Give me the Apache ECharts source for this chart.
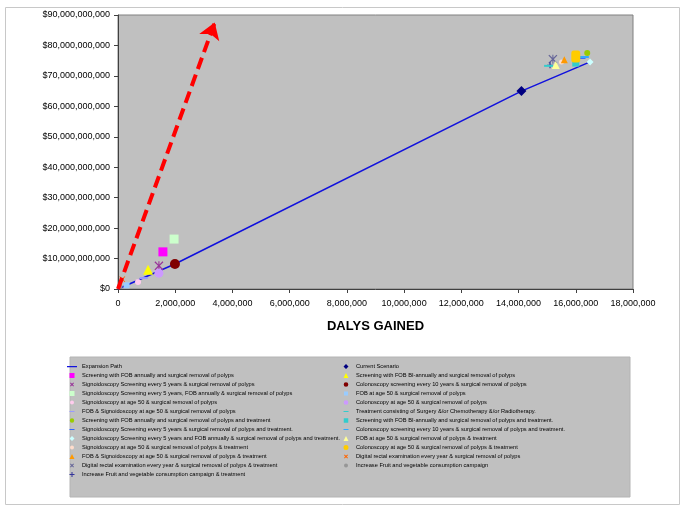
<!DOCTYPE html>
<html>
<head>
<meta charset="utf-8">
<script src="https://cdn.jsdelivr.net/npm/echarts@6/dist/echarts.min.js"></script>
<style>html,body{margin:0;padding:0;background:#fff}#c{width:685px;height:510px}</style>
</head>
<body>
<div id="c"></div>
<script>
// ---- data (DALYs gained, cost in $) ----
var xAxisMax = 18000000, xAxisStep = 2000000;
var yAxisMax = 90000000000, yAxisStep = 10000000000;
var expansionPath = [[0, 0], [1990000, 8200000000], [14100000, 65000000000], [16500000, 74600000000]];
var arrowLine = [[0, 0], [3380000, 87500000000]];

var leftNames = [
  "Expansion Path",
  "Screening with FOB annually and surgical removal of polyps",
  "Signoidoscopy Screening every 5 years & surgical removal of polyps",
  "Signoidoscopy Screening every 5 years, FOB annually & surgical removal of polyps",
  "Signoidoscopy at age 50 & surgical removal of polyps",
  "FOB & Signoidoscopy at age 50 & surgical removal of polyps",
  "Screening with FOB annually and surgical removal of polyps and treatment",
  "Signoidoscopy Screening every 5 years & surgical removal of polyps and treatment.",
  "Signoidoscopy Screening every 5 years and FOB annually & surgical removal of polyps and treatment.",
  "Signoidoscopy at age 50 & surgical removal of polyps & treatment",
  "FOB & Signoidoscopy at age 50 & surgical removal of polyps & treatment",
  "Digital rectal examination every year & surgical removal of polyps & treatment",
  "Increase Fruit and vegetable consumption campaign & treatment"
];
var rightNames = [
  "Current Scenario",
  "Screening with FOB BI-annually and surgical removal of polyps",
  "Colonoscopy screening every 10 years & surgical removal of polyps",
  "FOB at age 50 & surgical removal of polyps",
  "Colonoscopy at age 50 & surgical removal of polyps",
  "Treatment consisting of Surgery &/or Chemotherapy &/or Radiotherapy.",
  "Screening with FOB BI-annually and surgical removal of polyps and treatment.",
  "Colonoscopy screening every 10 years & surgical removal of polyps and treatment.",
  "FOB at age 50 & surgical removal of polyps & treatment",
  "Colonoscopy at age 50 & surgical removal of polyps & treatment",
  "Digital rectal examination every year & surgical removal of polyps",
  "Increase Fruit and vegetable consumption campaign"
];
// one [DALYs, cost] point per scenario, same order as names (after Expansion Path for left)
var leftPoints = [
  [1570000, 12200000000],
  [1430000, 7600000000],
  [1960000, 16400000000],
  [700000, 2300000000],
  [900000, 3600000000],
  [16400000, 77500000000],
  [16200000, 75900000000],
  [16500000, 74600000000],
  [15500000, 74600000000],
  [15600000, 75300000000],
  [15200000, 75500000000],
  [15100000, 73500000000]
];
var rightPoints = [
  [14100000, 65000000000],
  [1050000, 6300000000],
  [1990000, 8200000000],
  [300000, 1200000000],
  [1430000, 5200000000],
  [15050000, 73300000000],
  [16000000, 74200000000],
  [16300000, 76200000000],
  [15300000, 73600000000],
  [16000000, 76400000000],
  [150000, 3200000000],
  [70000, 800000000]
];

// ---- marker shapes ----
var XP = 'path://M0,1L1,0L5,4L9,0L10,1L6,5L10,9L9,10L5,6L1,10L0,9L4,5Z';
var AST = 'path://M0,1L1,0L4.4,3.4L4.4,0L5.6,0L5.6,3.4L9,0L10,1L6,5L10,9L9,10L5.6,6.6L5.6,10L4.4,10L4.4,6.6L1,10L0,9L4,5Z';
var PLUS = 'path://M4,0H6V4H10V6H6V10H4V6H0V4H4Z';

// legend icons in a 10x7 box (corner points keep the box size)
function ic(inner) { return 'path://M0,0L0,0ZM10,7L10,7Z' + inner; }
function sq(s) { return ic('M' + (5 - s / 2) + ',' + (3.5 - s / 2) + 'h' + s + 'v' + s + 'h' + (-s) + 'Z'); }
function dash(w, h) { return ic('M' + (5 - w / 2) + ',' + (3.5 - h / 2) + 'h' + w + 'v' + h + 'h' + (-w) + 'Z'); }
function tri(s) { return ic('M5,' + (3.5 - s / 2) + 'L' + (5 + s / 2) + ',' + (3.5 + s / 2) + 'L' + (5 - s / 2) + ',' + (3.5 + s / 2) + 'Z'); }
function dia(s) { return ic('M5,' + (3.5 - s / 2) + 'L' + (5 + s / 2) + ',3.5L5,' + (3.5 + s / 2) + 'L' + (5 - s / 2) + ',3.5Z'); }
function circ(r) { return ic('M' + (5 - r) + ',3.5a' + r + ',' + r + ' 0 1,0 ' + (2 * r) + ',0a' + r + ',' + r + ' 0 1,0 ' + (-2 * r) + ',0Z'); }
function xic(s) { var a = 5 - s / 2, b = 3.5 - s / 2, t = 0.7; return ic('M' + a + ',' + (b + t) + 'L' + (a + t) + ',' + b + 'L5,' + (3.5 - t) + 'L' + (a + s - t) + ',' + b + 'L' + (a + s) + ',' + (b + t) + 'L' + (5 + t) + ',3.5L' + (a + s) + ',' + (b + s - t) + 'L' + (a + s - t) + ',' + (b + s) + 'L5,' + (3.5 + t) + 'L' + (a + t) + ',' + (b + s) + 'L' + a + ',' + (b + s - t) + 'L' + (5 - t) + ',3.5Z'); }
function plusic(s) { var h = 0.5; return ic('M' + (5 - h) + ',' + (3.5 - s / 2) + 'h' + (2 * h) + 'V' + (3.5 - h) + 'H' + (5 + s / 2) + 'v' + (2 * h) + 'H' + (5 + h) + 'V' + (3.5 + s / 2) + 'h' + (-2 * h) + 'V' + (3.5 + h) + 'H' + (5 - s / 2) + 'v' + (-2 * h) + 'H' + (5 - h) + 'Z'); }

// [chart symbol, size, colour, legend icon]
var leftStyle = [
  ['rect', 9, '#ff00ff', sq(5)],
  [AST, 9, '#993399', xic(4)],
  ['rect', 9, '#ccffcc', sq(5)],
  ['circle', 6, '#ffccee', circ(2)],
  ['rect', [8, 2], '#9999ff', dash(5, 1.2)],
  ['circle', 6, '#99cc00', circ(2.2)],
  ['rect', [8, 2], '#3366ff', dash(5, 1.2)],
  ['diamond', 7, '#ccffff', dia(5)],
  ['circle', 5, '#ffddcc', circ(2)],
  ['triangle', 7, '#ff9900', tri(5)],
  [AST, 9, '#666699', xic(4)],
  [PLUS, 6, '#333399', plusic(5)]
];
var rightStyle = [
  ['diamond', 10, '#000080', dia(5)],
  ['triangle', 10, '#ffff00', tri(5)],
  ['circle', 10, '#800000', circ(2.3)],
  ['rect', 6, '#99ccff', sq(4)],
  ['circle', 9, '#cc99ff', circ(2.3)],
  ['rect', [9, 2], '#33cccc', dash(5, 1.2)],
  ['rect', 7, '#33cccc', sq(4.5)],
  ['rect', [9, 2], '#33aaff', dash(5, 1.2)],
  ['triangle', 8, '#ffff99', tri(5)],
  ['roundRect', [9, 12], '#ffcc00', circ(2.5)],
  [XP, 6, '#ff6600', xic(4)],
  ['circle', 5, '#969696', circ(2)]
];

var FONT = "'Liberation Sans Narrow','Arial Narrow','Liberation Sans',Arial,sans-serif";

var series = [];
series.push({
  name: leftNames[0], type: 'line', data: expansionPath, symbol: 'none',
  lineStyle: {color: '#1111dd', width: 1.6}, itemStyle: {color: '#1111dd'}, z: 3, silent: true
});
function addScatter(name, pt, st) {
  series.push({
    name: name, type: 'scatter', data: [pt], symbol: st[0], symbolSize: st[1],
    itemStyle: {color: st[2], opacity: 1}, z: 4
  });
}
for (var i = 0; i < leftPoints.length; i++) addScatter(leftNames[i + 1], leftPoints[i], leftStyle[i]);
for (var j = 0; j < rightPoints.length; j++) addScatter(rightNames[j], rightPoints[j], rightStyle[j]);
series.push({
  name: 'arrow', type: 'line', data: [], symbol: 'none', z: 6,
  markLine: {
    silent: true, symbol: ['none', 'arrow'], symbolSize: 16, animation: false,
    lineStyle: {color: '#ff0000', width: 4, type: [12, 6]},
    itemStyle: {color: '#ff0000'},
    label: {show: false},
    data: [[{coord: arrowLine[0]}, {coord: arrowLine[1]}]]
  }
});

var leftLegend = [{name: leftNames[0], icon: ic('M0,3h10v1.2h-10Z')}];
for (var a = 0; a < leftStyle.length; a++) leftLegend.push({name: leftNames[a + 1], icon: leftStyle[a][3]});
var rightLegend = [];
for (var b = 0; b < rightStyle.length; b++) rightLegend.push({name: rightNames[b], icon: rightStyle[b][3]});

var legendCommon = {
  orient: 'vertical', itemWidth: 10, itemHeight: 7, itemGap: 2, padding: 0,
  selectedMode: false, inactiveColor: '#000',
  textStyle: {fontSize: 5.7, lineHeight: 7, color: '#000', fontFamily: FONT}
};

var chart = echarts.init(document.getElementById('c'), null, {renderer: 'canvas'});
chart.setOption({
  animation: false,
  backgroundColor: '#fff',
  textStyle: {fontFamily: FONT},
  graphic: [
    {type: 'rect', shape: {x: 5.5, y: 7.5, width: 674, height: 497}, style: {fill: 'none', stroke: '#c8c8c8', lineWidth: 1}, z: -10},
    {type: 'rect', shape: {x: 70, y: 357, width: 560, height: 140}, style: {fill: '#c0c0c0', stroke: '#b4b4b4', lineWidth: 1}, z: -5}
  ],
  grid: {left: 118, right: 52, top: 15, bottom: 221, show: true, backgroundColor: '#c0c0c0', borderColor: '#808080', borderWidth: 1},
  xAxis: {
    type: 'value', min: 0, max: xAxisMax, interval: xAxisStep,
    name: 'DALYS GAINED', nameLocation: 'middle', nameGap: 31,
    nameTextStyle: {fontSize: 13, fontWeight: 'bold', color: '#000', fontFamily: FONT},
    axisLine: {show: true, lineStyle: {color: '#404040', width: 1}},
    axisTick: {show: true, length: 4, lineStyle: {color: '#404040'}},
    splitLine: {show: false},
    axisLabel: {fontSize: 9, color: '#000', margin: 10, fontFamily: FONT,
      formatter: function (v) { return v.toLocaleString('en-US'); }}
  },
  yAxis: {
    type: 'value', min: 0, max: yAxisMax, interval: yAxisStep,
    axisLine: {show: true, lineStyle: {color: '#404040', width: 1}},
    axisTick: {show: true, length: 4, lineStyle: {color: '#404040'}},
    splitLine: {show: false},
    axisLabel: {fontSize: 9, color: '#000', margin: 8, fontFamily: FONT,
      formatter: function (v) { return '$' + v.toLocaleString('en-US'); }}
  },
  legend: [
    Object.assign({}, legendCommon, {left: 67, top: 363, data: leftLegend}),
    Object.assign({}, legendCommon, {left: 341, top: 363, data: rightLegend})
  ],
  series: series
});
</script>
</body>
</html>
